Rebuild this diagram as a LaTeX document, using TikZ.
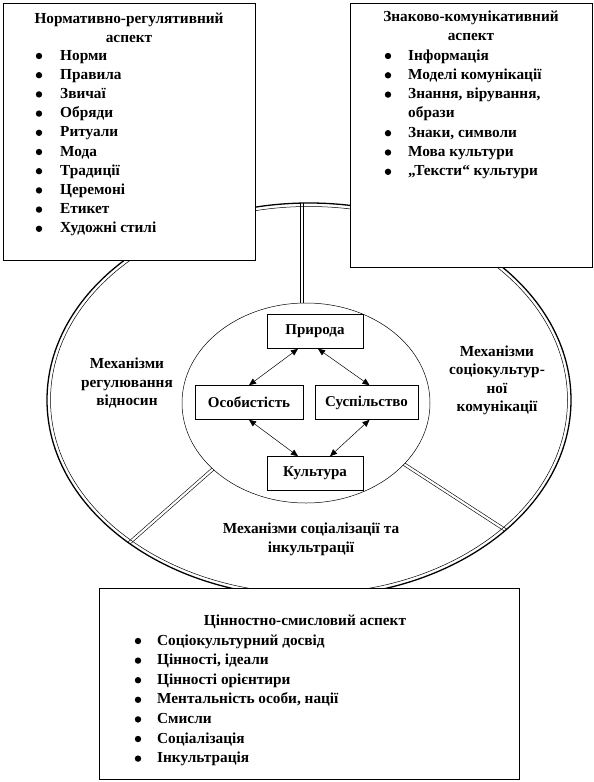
\documentclass[tikz,border=0pt]{standalone}
\usepackage{fontspec}
\setmainfont{Liberation Serif}
\usetikzlibrary{arrows.meta,calc,positioning}

\begin{document}
\begin{tikzpicture}[x=1pt,y=-1pt,
  panel/.style={draw,fill=white,line width=0.6pt,anchor=north west,inner sep=0pt},
  heading/.style={font=\fontsize{15.3}{19}\selectfont\bfseries,anchor=base,inner sep=0pt},
  entry/.style={font=\fontsize{15.3}{19}\selectfont\bfseries,anchor=base west,inner sep=0pt},
  mech/.style={font=\fontsize{15.3}{18.5}\selectfont\bfseries,align=center,inner sep=0pt},
  cell/.style={draw,fill=white,line width=0.6pt,font=\fontsize{15}{16}\selectfont\bfseries,minimum height=34pt,inner sep=0pt},
  link/.style={{Triangle[width=6pt,length=7pt]}-{Triangle[width=6pt,length=7pt]},line width=0.5pt},
  spoke/.style={double,double distance=2.2pt,line width=0.6pt}]
\useasboundingbox (0,0) rectangle (594,782);
\coordinate (c) at (309,400);
\coordinate (core) at (306,403);

% spokes, cut at the outer ring
\begin{scope}
  \clip (c) ellipse [x radius=262, y radius=197];
  \coordinate (s1) at (302,420);
  \coordinate (s2) at (230,454);
  \coordinate (s3) at (390,455);
  \draw[spoke] (s1) -- ++(0,-260);
  \draw[spoke] (s2) -- ++(-204,180);
  \draw[spoke] (s3) -- ++(200,130);
\end{scope}
\draw[line width=1.3pt] (c) ellipse [x radius=262, y radius=197];
\draw[line width=0.5pt] (c) ellipse [x radius=258.5, y radius=193.5];
\draw[fill=white,line width=0.5pt] (core) ellipse [x radius=124, y radius=100];

% inner scheme
\node[cell,minimum width=96pt] (pryroda) at (315,331.5) {Природа};
\node[cell,minimum width=108pt] (osoba) at (249,402.5) {Особистість};
\node[cell,minimum width=103pt] (susp) at (366.5,402.5) {Суспільство};
\node[cell,minimum width=96pt] (kult) at (315,473.5) {Культура};
\draw[link] ([xshift=-17pt]pryroda.south) -- (osoba.north);
\draw[link] ([xshift=3pt]pryroda.south) -- ([xshift=3pt]susp.north);
\draw[link] (osoba.south) -- ([xshift=-17pt]kult.north);
\draw[link] ([xshift=3pt]susp.south) -- ([xshift=15pt]kult.north);

\node[mech] (regul) at (127,383.5) {Механізми\\регулювання\\відносин};
\node[mech] (komun) at (497,380.5) {Механізми\\соціокультур-\\ної\\комунікації};
\node[mech] (sociz) at (311,539.5) {Механізми соціалізації та\\інкультрації};

% aspect panels
\node[panel,minimum width=252pt,minimum height=257pt] (normbox) at (3,3) {};
\node[heading] (normhead1) at (129,23) {Нормативно-регулятивний};
\node[heading] (normhead2) at (129,42) {аспект};
\foreach \t [count=\i from 0] in {Норми,Правила,Звичаї,Обряди,Ритуали,Мода,Традиції,Церемоні,Етикет,Художні стилі}{
  \fill (39,56+19.2*\i) circle (3.2pt);
  \node[entry] (norm\i) at (60,60+19.2*\i) {\t};
}

\node[panel,minimum width=242pt,minimum height=264pt] (znakbox) at (350,3) {};
\node[heading] (znakhead1) at (471,21) {Знаково-комунікативний};
\node[heading] (znakhead2) at (471,40) {аспект};
\foreach \i in {0,1,2,4,5,6}
  \fill (388,56+19.3*\i) circle (3.2pt);
\node[entry] (znak0) at (408,60) {Інформація};
\node[entry] (znak1) at (408,79.3) {Моделі комунікації};
\node[entry] (znak2) at (408,98.6) {Знання, вірування,};
\node[entry] (znak3) at (408,117.9) {образи};
\node[entry] (znak4) at (408,137.2) {Знаки, символи};
\node[entry] (znak5) at (408,156.5) {Мова культури};
\node[entry] (znak6) at (408,175.8) {„Тексти“ культури};

\node[panel,minimum width=420pt,minimum height=191pt] (cinbox) at (99,588) {};
\node[heading] (cinhead) at (305,625) {Цінностно-смисловий аспект};
\foreach \t [count=\i from 0] in {Соціокультурний досвід,{Цінності, ідеали},Цінності орієнтири,{Ментальність особи, нації},Смисли,Соціалізація,Інкультрація}{
  \fill (138,641+19.6*\i) circle (3.2pt);
  \node[entry] (cin\i) at (157,645+19.6*\i) {\t};
}
\end{tikzpicture}
\end{document}
